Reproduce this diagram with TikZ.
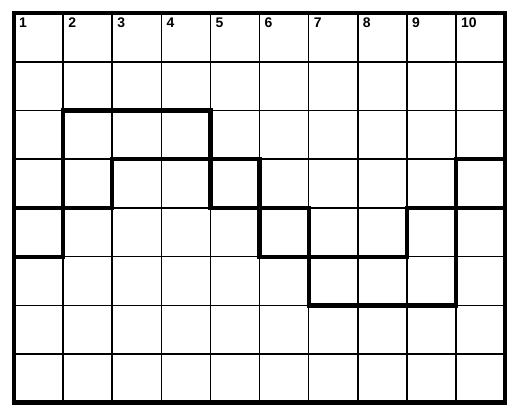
\documentclass[tikz,border=0pt]{standalone}
\usepackage{fontspec}
\setsansfont{Liberation Sans}
\usepackage{tikz}
\usetikzlibrary{positioning}
\tikzset{
  cell/.style={draw=black, line width=1.2pt},
  frame/.style={draw=black, line width=3.6pt, line join=miter},
  walk/.style={draw=black, line width=3.2pt, line join=miter},
  colnum/.style={anchor=north west, inner sep=0pt,
                 font=\sffamily\bfseries\fontsize{10.5}{11}\selectfont},
}

\begin{document}
\begin{tikzpicture}[x=1.3cm, y=-1.29cm]
  \useasboundingbox (-0.285,-0.267) rectangle (10.10,8.08);
  \foreach \c in {1,...,9}
    \draw[cell] (\c,0) -- (\c,8);
  \foreach \r in {1,...,7}
    \draw[cell] (0,\r) -- (10,\r);
  \draw[frame] (0,0) rectangle (10,8);
  \foreach \c in {1,...,10}
    \node[colnum] (num\c) at (\c-0.9,0.1) {\c};

  \draw[walk] (0,4)--(2,4)--(2,3)--(5,3)--(5,5)--(8,5)--(8,4)--(10,4);
  \draw[walk] (0,5)--(1,5)--(1,2)--(4,2)--(4,4)--(6,4)--(6,6)--(9,6)--(9,3)--(10,3);
\end{tikzpicture}
\end{document}
